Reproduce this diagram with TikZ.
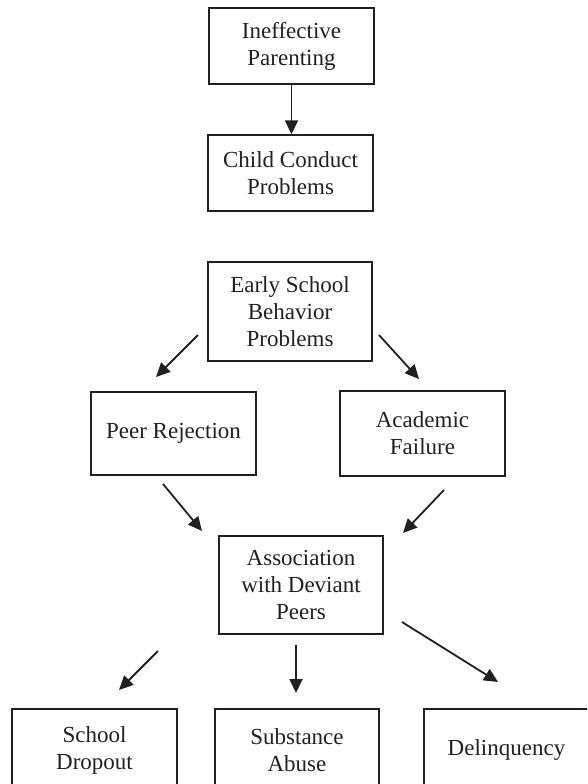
\documentclass[tikz,border=0pt]{standalone}
\usepackage{fontspec}
\setmainfont{Liberation Serif}
\usepackage{tikz}
\usetikzlibrary{arrows.meta}
\newcommand{\lParenting}{Ineffective\\Parenting}
\newcommand{\lConduct}{Child Conduct\\Problems}
\newcommand{\lEarly}{Early School\\Behavior\\Problems}
\newcommand{\lRejection}{Peer Rejection}
\newcommand{\lFailure}{Academic\\Failure}
\newcommand{\lDeviant}{Association\\with Deviant\\Peers}
\newcommand{\lDropout}{School\\Dropout}
\newcommand{\lSubstance}{Substance\\Abuse}
\newcommand{\lDelinquency}{Delinquency}
\definecolor{lineBlack}{RGB}{35, 31, 32}

\begin{document}
\begin{tikzpicture} [
        x=1pt, y=-1pt,
        font=\fontsize{23}{27}\selectfont,
        box/.style={draw=lineBlack, line width=1.4pt, text=lineBlack,
            align=center, minimum width=165pt, inner sep=4pt},
        arr/.style={draw=lineBlack, line width=1.8pt,
            -{Triangle[length=14pt, width=13pt]}}
    ]

    \useasboundingbox (0,0) rectangle (587,784);
    \clip (0,0) rectangle (587,784);

    % chain at the top
    \node[box, minimum height=76pt] (parenting) at (291.5,46) {\lParenting};
    \node[box, minimum height=76pt] (conduct) at (290.5,173) {\lConduct};

    \node[box, minimum width=164pt, minimum height=99pt] (early) at (290,311.5) {\lEarly};
    \node[box, minimum height=83pt] (rejection) at (173.5,433.5) {\lRejection};
    \node[box, minimum height=85pt] (failure) at (422.5,433.5) {\lFailure};
    \node[box, minimum width=164pt, minimum height=98pt] (deviant) at (301,585) {\lDeviant};

    % outcomes, cut by the lower edge
    \node[box, minimum height=82pt] (dropout) at (94.5,750) {\lDropout};
    \node[box, minimum width=164pt, minimum height=82pt] (substance) at (297,750) {\lSubstance};
    \node[box, minimum height=82pt] (delinquency) at (506.5,750) {\lDelinquency};

    \draw[arr] (parenting.south) -- (parenting.south|-conduct.north);

    % free standing arrows between the boxes
    \coordinate (early-rej 0) at (198,335);
    \coordinate (early-rej 1) at (156,377);
    \coordinate (early-fail 0) at (379,335);
    \coordinate (early-fail 1) at (419,379);
    \coordinate (rej-dev 0) at (163,484);
    \coordinate (rej-dev 1) at (202,531);
    \coordinate (fail-dev 0) at (444,490);
    \coordinate (fail-dev 1) at (403,533);
    \coordinate (dev-drop 0) at (158,651);
    \coordinate (dev-drop 1) at (119,690);
    \coordinate (dev-sub 0) at (296,645);
    \coordinate (dev-sub 1) at (296,693);
    \coordinate (dev-del 0) at (402,622);
    \coordinate (dev-del 1) at (498,682);

    \foreach \a in {early-rej, early-fail, rej-dev, fail-dev, dev-drop, dev-sub, dev-del} {
        \draw[arr] (\a\space0) -- (\a\space1);
    }

\end{tikzpicture}
\end{document}
